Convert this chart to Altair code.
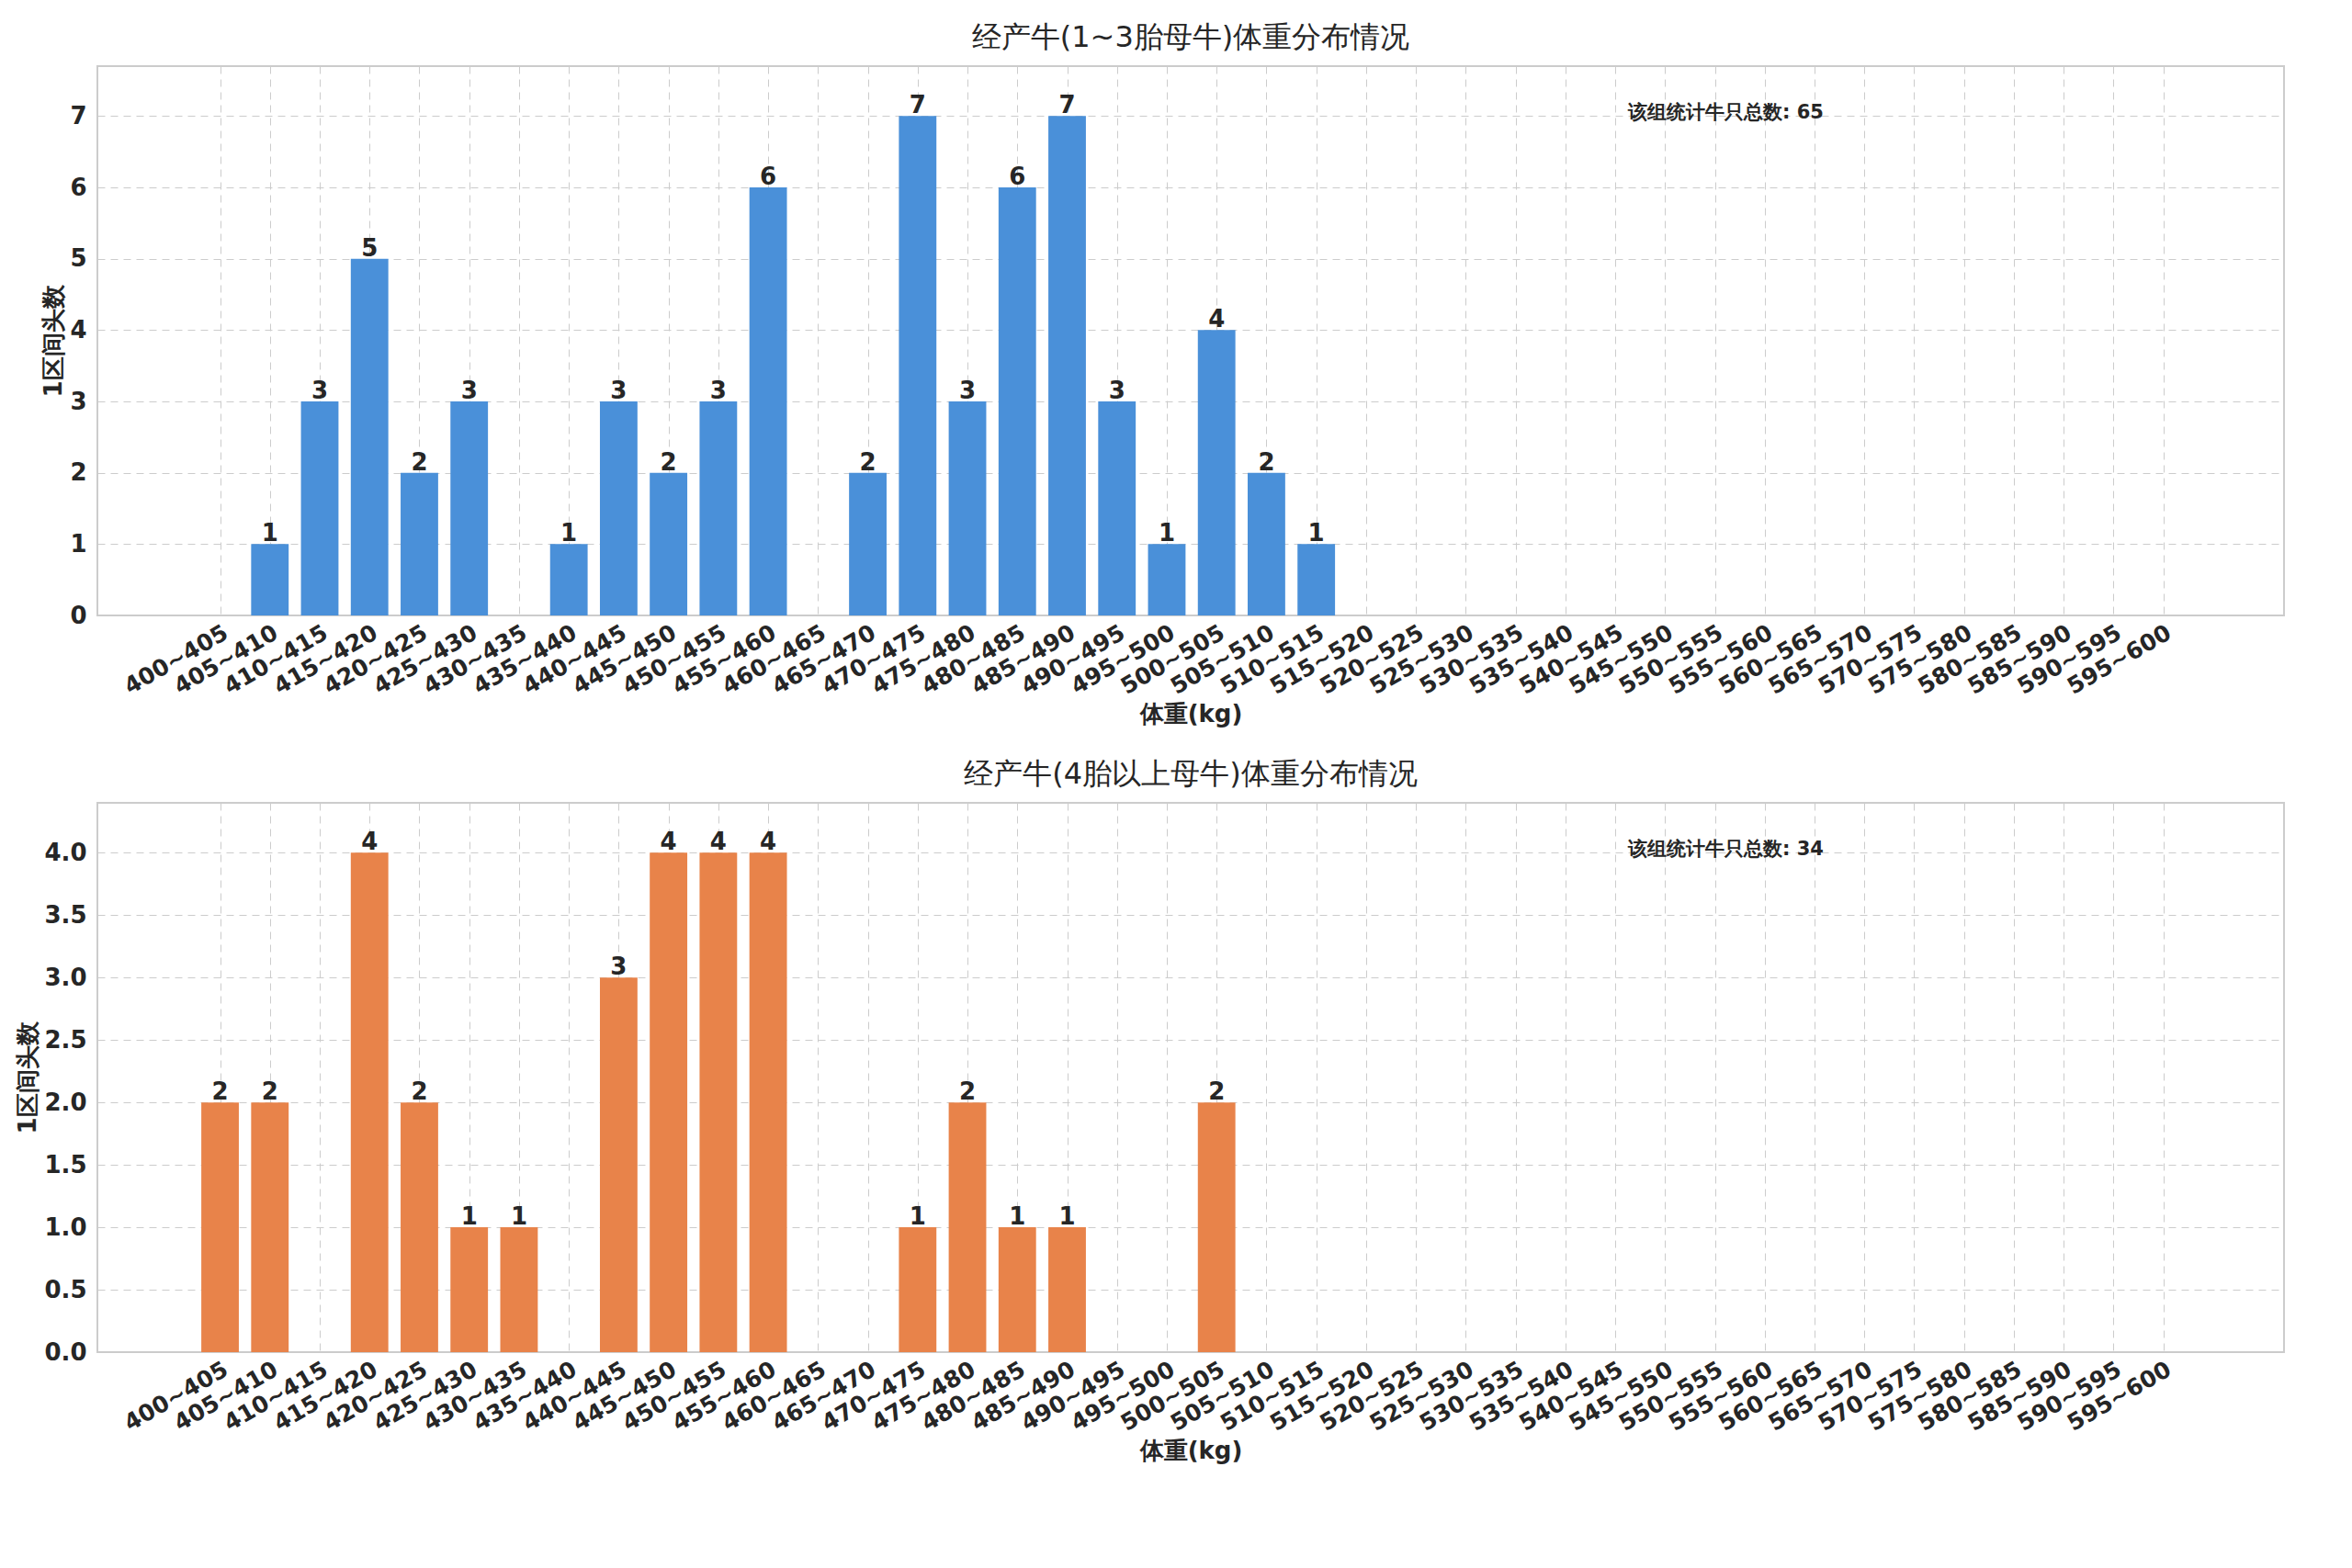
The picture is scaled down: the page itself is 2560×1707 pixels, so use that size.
import altair as alt
import pandas as pd

bins = [f"{s}~{s + 5}" for s in range(400, 600, 5)]

counts_young = [0, 1, 3, 5, 2, 3, 0, 1, 3, 2, 3, 6, 0, 2, 7, 3, 6, 7, 3, 1, 4, 2, 1] + [0] * 17
counts_old = [2, 2, 0, 4, 2, 1, 1, 0, 3, 4, 4, 4, 0, 0, 1, 2, 1, 1, 0, 0, 2] + [0] * 19

W, H = 2380, 598
FONT = "DejaVu Sans"
LO, HI = -2.37, 41.33
STEP = W / (HI - LO)


def panel(counts, color, title, total, ymax, yfmt, yvals):
    df = pd.DataFrame({"idx": list(range(len(bins))), "bin": bins, "count": counts})
    x = alt.X("idx:Q", title="体重(kg)",
              scale=alt.Scale(domain=[LO, HI], nice=False, zero=False),
              axis=alt.Axis(values=list(range(len(bins))),
                            labelExpr="(400 + datum.value * 5) + '~' + (405 + datum.value * 5)",
                            labelAngle=-30, labelAlign="right", labelBaseline="top",
                            labelFontSize=25, labelFontWeight="bold", labelColor="#262626",
                            titleFontSize=26, titleFontWeight="bold", titleColor="#262626",
                            ticks=False, domain=False, gridDash=[8, 6], gridColor="#cccccc",
                            labelPadding=6, labelOverlap=False, labelFlush=False))
    y = alt.Y("count:Q", title="1区间头数",
              scale=alt.Scale(domain=[0, ymax], nice=False),
              axis=alt.Axis(values=yvals, format=yfmt,
                            labelFontSize=26, labelFontWeight="bold", labelColor="#262626",
                            titleFontSize=26, titleFontWeight="bold", titleColor="#262626",
                            ticks=False, domain=False, gridDash=[8, 6], gridColor="#cccccc",
                            labelPadding=12))
    base = alt.Chart(df)
    bars = base.mark_bar(color=color, width=STEP * 0.75).encode(x=x, y=y)
    labels = base.transform_filter("datum.count > 0").mark_text(
        baseline="bottom", dy=2, fontSize=26, fontWeight="bold", color="#262626", font=FONT
    ).encode(x="idx:Q", y="count:Q", text="count:Q")
    note = base.transform_filter("datum.idx == 0").mark_text(
        align="left", baseline="middle", fontSize=21, fontWeight="bold",
        color="#262626", font=FONT).encode(
        x=alt.value(0.70 * W), y=alt.value(51), text=alt.value(f"该组统计牛只总数: {total}"))
    return (bars + labels + note).properties(
        width=W, height=H,
        title=alt.TitleParams(title, fontSize=32, fontWeight="normal", color="#262626",
                              font=FONT, offset=14))


top = panel(counts_young, "#4A90D9", "经产牛(1~3胎母牛)体重分布情况", 65, 7.7, "d",
            list(range(0, 8)))
bottom = panel(counts_old, "#E8834A", "经产牛(4胎以上母牛)体重分布情况", 34, 4.4, ".1f",
               [i * 0.5 for i in range(9)])

chart = alt.vconcat(top, bottom, spacing=34).resolve_scale(y="independent").configure(
    font=FONT
).configure_view(stroke="#cccccc", strokeWidth=2).properties(
    background="white", padding={"left": 8, "right": 10, "top": 16, "bottom": 8})

chart.save("out.html", embed_options={"renderer": "svg", "actions": False})
